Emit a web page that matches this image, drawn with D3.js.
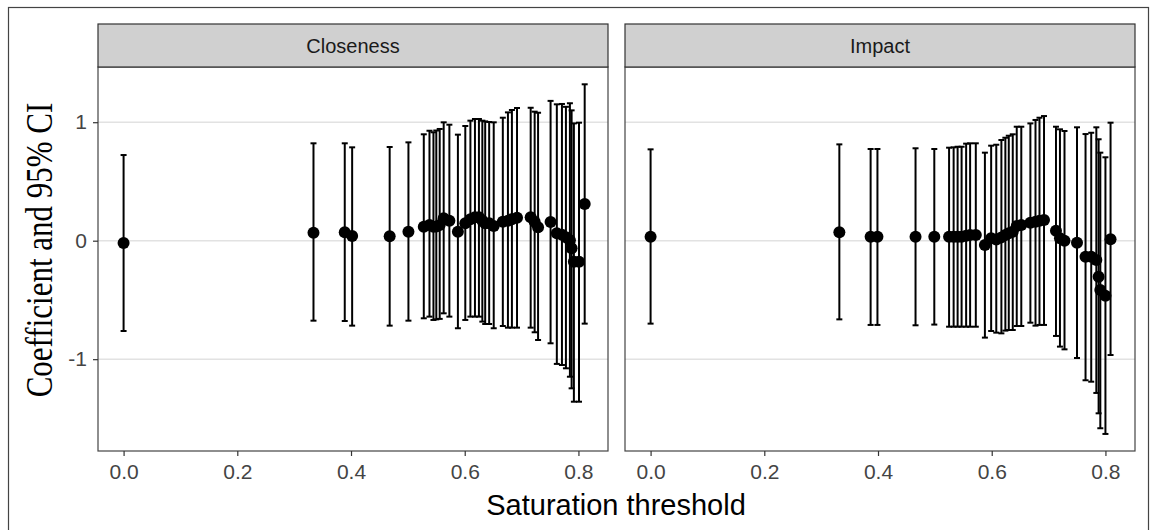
<!DOCTYPE html>
<html>
<head>
<meta charset="utf-8">
<script src="https://cdn.jsdelivr.net/npm/d3@7"></script>
<style>
  html, body { margin: 0; padding: 0; background: #fff; }
  svg { display: block; }
</style>
</head>
<body>
<svg id="chart" width="1158" height="530"></svg>
<script>

// Data
var panelTitles = ['Closeness', 'Impact'];
var xTicks = [0, 0.2, 0.4, 0.6, 0.8];
var yTicks = [-1, 0, 1];

var closenessThreshold = [0, 0.334, 0.389, 0.402, 0.468, 0.501, 0.528, 0.538, 0.545, 0.550, 0.556, 0.563, 0.573, 0.588, 0.601, 0.610, 0.618, 0.625, 0.631, 0.636, 0.643, 0.651, 0.667, 0.676, 0.683, 0.692, 0.716, 0.723, 0.729, 0.751, 0.762, 0.771, 0.778, 0.785, 0.788, 0.792, 0.801, 0.811];
var closenessEstimate = [-0.02, 0.068, 0.071, 0.040, 0.037, 0.076, 0.118, 0.132, 0.118, 0.120, 0.132, 0.189, 0.169, 0.076, 0.147, 0.181, 0.197, 0.197, 0.169, 0.147, 0.147, 0.124, 0.160, 0.169, 0.181, 0.194, 0.197, 0.160, 0.113, 0.158, 0.062, 0.050, 0.030, 0.003, -0.064, -0.177, -0.177, 0.310];
var closenessLower = [-0.762, -0.675, -0.678, -0.717, -0.717, -0.675, -0.655, -0.641, -0.669, -0.664, -0.660, -0.613, -0.641, -0.739, -0.669, -0.641, -0.641, -0.641, -0.683, -0.703, -0.703, -0.739, -0.720, -0.734, -0.734, -0.734, -0.734, -0.773, -0.838, -0.866, -1.040, -1.049, -1.077, -1.148, -1.246, -1.359, -1.359, -0.700];
var closenessUpper = [0.723, 0.822, 0.822, 0.788, 0.791, 0.830, 0.898, 0.928, 0.915, 0.930, 0.943, 0.999, 0.979, 0.895, 0.968, 1.013, 1.027, 1.027, 1.013, 1.007, 1.002, 0.999, 1.038, 1.083, 1.103, 1.120, 1.122, 1.089, 1.080, 1.180, 1.151, 1.154, 1.130, 1.160, 1.100, 0.990, 0.996, 1.320];

var impactThreshold = [0, 0.332, 0.387, 0.399, 0.466, 0.499, 0.525, 0.533, 0.540, 0.547, 0.555, 0.562, 0.572, 0.588, 0.599, 0.608, 0.617, 0.624, 0.630, 0.637, 0.644, 0.652, 0.668, 0.677, 0.684, 0.692, 0.713, 0.720, 0.728, 0.750, 0.765, 0.775, 0.784, 0.788, 0.791, 0.800, 0.809];
var impactEstimate = [0.034, 0.071, 0.034, 0.034, 0.034, 0.034, 0.034, 0.034, 0.034, 0.034, 0.042, 0.048, 0.048, -0.036, 0.020, 0.011, 0.028, 0.048, 0.062, 0.076, 0.124, 0.132, 0.152, 0.160, 0.169, 0.175, 0.084, 0.020, 0.000, -0.017, -0.135, -0.135, -0.163, -0.304, -0.416, -0.464, 0.012];
var impactLower = [-0.700, -0.664, -0.711, -0.711, -0.714, -0.708, -0.726, -0.726, -0.726, -0.726, -0.726, -0.726, -0.726, -0.818, -0.762, -0.776, -0.782, -0.759, -0.754, -0.754, -0.720, -0.720, -0.692, -0.717, -0.711, -0.711, -0.804, -0.894, -0.917, -0.990, -1.178, -1.190, -1.285, -1.457, -1.583, -1.631, -0.965];
var impactUpper = [0.771, 0.813, 0.774, 0.774, 0.780, 0.774, 0.785, 0.788, 0.793, 0.793, 0.819, 0.822, 0.822, 0.743, 0.802, 0.810, 0.850, 0.869, 0.886, 0.898, 0.962, 0.962, 0.990, 1.019, 1.038, 1.052, 0.962, 0.940, 0.926, 0.957, 0.900, 0.911, 0.957, 0.856, 0.743, 0.704, 0.996];


var Chart = (function(){

    var sans = '"Liberation Sans", Arial, sans-serif',
        serif = '"Liberation Serif", "Times New Roman", serif';

    // layout
    var panelLefts = [98, 625],
        panelWidth = 510,
        stripTop = 24,
        plotTop = 67,
        plotBottom = 451;

    function toRows(t, est, lo, hi) {
        return t.map(function(d, i){
            return { x: d, est: est[i], lo: lo[i], hi: hi[i] };
        });
    }

    var panels = [
        toRows(closenessThreshold, closenessEstimate, closenessLower, closenessUpper),
        toRows(impactThreshold, impactEstimate, impactLower, impactUpper)
    ];

    var svg = d3.select('#chart');

    // outer figure frame
    svg.append('rect')
        .attr('x', 8.5).attr('y', 7.5)
        .attr('width', 1140).attr('height', 540)
        .attr('fill', 'none').attr('stroke', '#444').attr('stroke-width', 1.2);

    var y = d3.scaleLinear().domain([-1.775, 1.466]).range([plotBottom, plotTop]);

    panels.forEach(function(rows, p){
        var left = panelLefts[p];
        var x = d3.scaleLinear().domain([-0.045, 0.852]).range([left, left + panelWidth]);
        var g = svg.append('g');

        // horizontal grid only
        g.selectAll('line.grid').data(yTicks).enter().append('line')
            .attr('class', 'grid')
            .attr('x1', left).attr('x2', left + panelWidth)
            .attr('y1', function(d){ return y(d); })
            .attr('y2', function(d){ return y(d); })
            .attr('stroke', '#e2e2e2').attr('stroke-width', 1.4);

        // error bars
        var bars = g.selectAll('g.bar').data(rows).enter().append('g').attr('class', 'bar');
        bars.append('line')
            .attr('x1', function(d){ return x(d.x); }).attr('x2', function(d){ return x(d.x); })
            .attr('y1', function(d){ return y(d.lo); }).attr('y2', function(d){ return y(d.hi); })
            .attr('stroke', '#000').attr('stroke-width', 2);
        ['lo', 'hi'].forEach(function(k){
            bars.append('line')
                .attr('x1', function(d){ return x(d.x) - 3; }).attr('x2', function(d){ return x(d.x) + 3; })
                .attr('y1', function(d){ return y(d[k]); }).attr('y2', function(d){ return y(d[k]); })
                .attr('stroke', '#000').attr('stroke-width', 2);
        });

        // points
        g.selectAll('circle').data(rows).enter().append('circle')
            .attr('cx', function(d){ return x(d.x); })
            .attr('cy', function(d){ return y(d.est); })
            .attr('r', 6)
            .attr('fill', '#000');

        // panel border
        g.append('rect')
            .attr('x', left).attr('y', plotTop)
            .attr('width', panelWidth).attr('height', plotBottom - plotTop)
            .attr('fill', 'none').attr('stroke', '#444').attr('stroke-width', 1.2);

        // strip
        g.append('rect')
            .attr('x', left).attr('y', stripTop)
            .attr('width', panelWidth).attr('height', plotTop - stripTop)
            .attr('fill', '#d0d0d0').attr('stroke', '#333').attr('stroke-width', 1.2);
        g.append('text')
            .attr('x', left + panelWidth / 2).attr('y', (stripTop + plotTop) / 2 + 7)
            .attr('text-anchor', 'middle')
            .style('font-family', sans).style('font-size', '20px').attr('fill', '#1a1a1a')
            .text(panelTitles[p]);

        // x axis
        var xAxis = g.append('g')
            .attr('transform', 'translate(0,' + plotBottom + ')')
            .call(d3.axisBottom(x).tickValues(xTicks).tickSize(5).tickPadding(8).tickFormat(d3.format('.1f')));
        xAxis.select('.domain').remove();
        xAxis.selectAll('line').attr('stroke', '#333').attr('stroke-width', 1.2);
        xAxis.selectAll('text').style('font-family', sans).style('font-size', '21px').attr('fill', '#444');

        // y axis on first panel only
        if (p === 0) {
            var yAxis = g.append('g')
                .attr('transform', 'translate(' + left + ',0)')
                .call(d3.axisLeft(y).tickValues(yTicks).tickSize(5).tickPadding(6).tickFormat(function(d){ return String(d); }));
            yAxis.select('.domain').remove();
            yAxis.selectAll('line').attr('stroke', '#333').attr('stroke-width', 1.2);
            yAxis.selectAll('text').style('font-family', sans).style('font-size', '21px').attr('fill', '#444');
        }
    });

    // axis titles
    svg.append('text')
        .attr('x', 616).attr('y', 515)
        .attr('text-anchor', 'middle')
        .style('font-family', sans).style('font-size', '29px').attr('fill', '#000')
        .text('Saturation threshold');

    svg.append('text')
        .attr('transform', 'translate(52,250) rotate(-90) scale(1,1.2)')
        .attr('text-anchor', 'middle')
        .style('font-family', serif).style('font-size', '31px').attr('fill', '#000')
        .text('Coefficient and 95% CI');

})();
</script>
</body>
</html>
